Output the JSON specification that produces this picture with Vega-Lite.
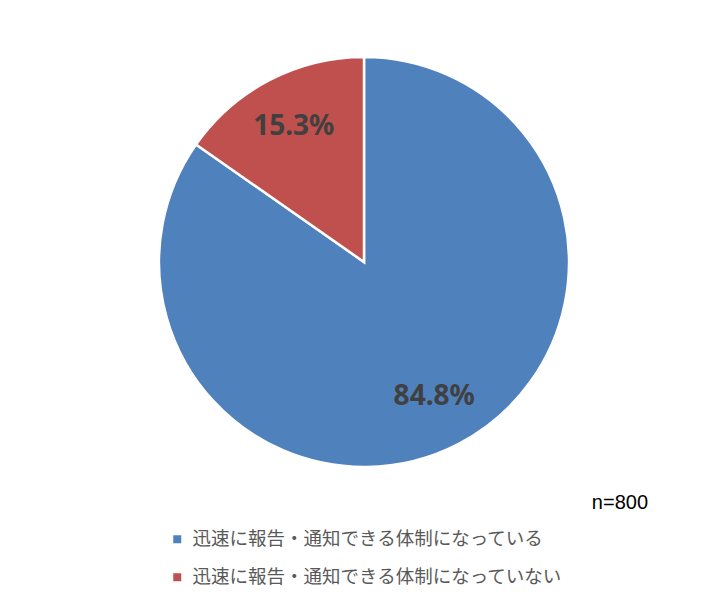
{
  "$schema": "https://vega.github.io/schema/vega-lite/v6.json",
  "width": 728,
  "height": 524,
  "autosize": {"type": "none"},
  "padding": {"top": 0, "left": 0, "right": 0, "bottom": 82},
  "background": "white",
  "title": {
    "text": "n=800",
    "orient": "bottom",
    "anchor": "end",
    "offset": -94,
    "dx": -80,
    "fontSize": 20,
    "fontWeight": "normal",
    "font": "Liberation Sans",
    "color": "#000000"
  },
  "data": {
    "values": [
      {"category": "迅速に報告・通知できる体制になっている", "value": 84.8, "label": "84.8%", "ord": 1},
      {"category": "迅速に報告・通知できる体制になっていない", "value": 15.3, "label": "15.3%", "ord": 2}
    ]
  },
  "encoding": {
    "theta": {"field": "value", "type": "quantitative", "stack": true},
    "order": {"field": "ord", "type": "quantitative"},
    "color": {
      "field": "category",
      "type": "nominal",
      "scale": {
        "domain": ["迅速に報告・通知できる体制になっている", "迅速に報告・通知できる体制になっていない"],
        "range": ["#4F81BD", "#C0504D"]
      },
      "legend": {
        "title": null,
        "orient": "none",
        "legendX": 168,
        "legendY": 530,
        "direction": "vertical",
        "symbolType": "square",
        "symbolSize": 64,
        "symbolStrokeWidth": 0,
        "labelFont": "Noto Sans CJK JP",
        "labelFontSize": 18.5,
        "labelColor": "#595959",
        "labelLimit": 600,
        "rowPadding": 19,
        "labelOffset": 6
      }
    }
  },
  "layer": [
    {
      "mark": {"type": "arc", "outerRadius": 205, "stroke": "white", "strokeWidth": 2.5}
    },
    {
      "mark": {"type": "text", "radius": 152, "fontSize": 28, "fontWeight": "bold", "font": "Noto Sans", "fill": "#404040"},
      "encoding": {
        "text": {"field": "label", "type": "nominal"},
        "color": {"value": "#404040"}
      }
    }
  ]
}
